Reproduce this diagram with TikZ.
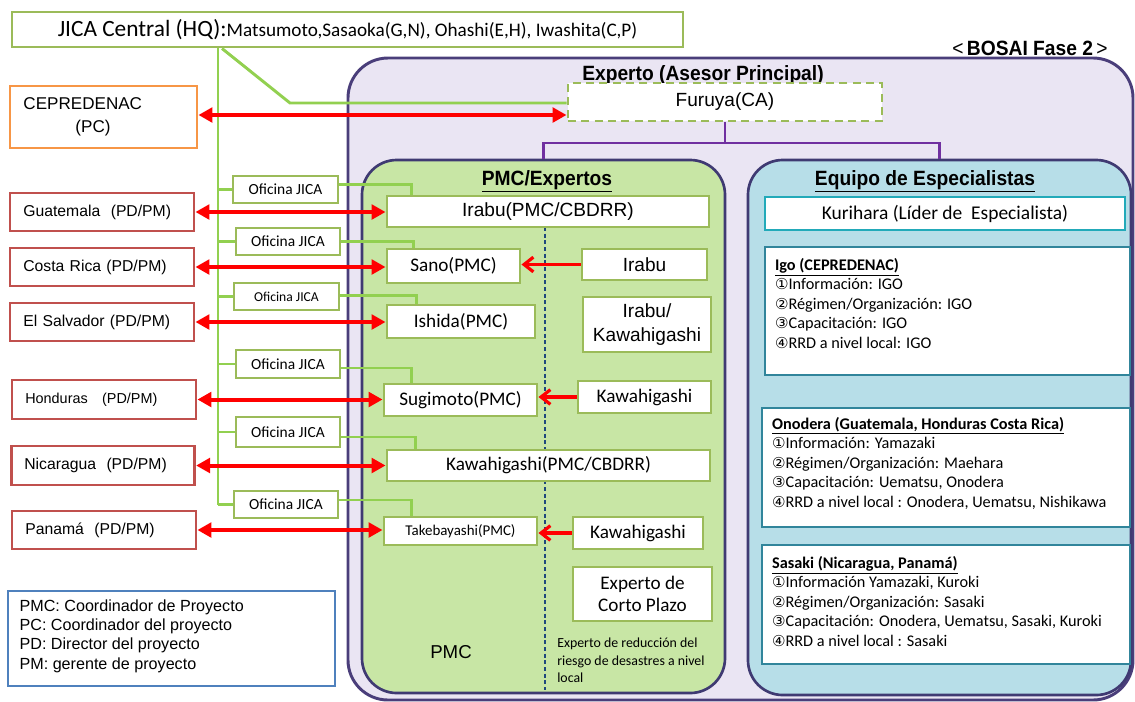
\documentclass[tikz,border=0pt]{standalone}
\usepackage{fontspec}
\setmainfont{Liberation Sans}
\newfontfamily\calib{Carlito}
\newfontfamily\ari{Liberation Sans}
\newfontfamily\narb[FakeStretch=0.93]{Liberation Sans}
\newfontfamily\djv{DejaVu Sans}
\usetikzlibrary{arrows.meta,calc}
\definecolor{gb}{RGB}{155,187,89}
\definecolor{gl}{RGB}{146,208,80}
\definecolor{rb}{RGB}{192,80,77}
\definecolor{ob}{RGB}{247,150,70}
\definecolor{pb}{RGB}{74,62,122}
\definecolor{pf}{RGB}{234,229,243}
\definecolor{pn}{RGB}{63,58,114}
\definecolor{gf}{RGB}{200,230,165}
\definecolor{bf}{RGB}{183,222,232}
\definecolor{tb}{RGB}{49,133,155}
\definecolor{lb}{RGB}{79,129,189}
\definecolor{dl}{RGB}{31,73,125}
\definecolor{ptree}{RGB}{112,48,160}
\newcommand\BX[7]{\node[inner sep=0pt, minimum width={(#4-#2)*0.75pt}, minimum height={(#5-#3)*0.75pt}, #6] (#1) at ({(#2+#4)/2},{(#3+#5)/2}) {#7};}
\newcommand\cn[1]{{\djv\fontsize{11.3}{10}\selectfont#1}}
\begin{document}
\begin{tikzpicture}[x=0.75pt,y=-0.75pt,
  gbox/.style={draw=gb, line width=2.2pt, fill=white},
  rbox/.style={draw=rb, line width=2.2pt, fill=white},
  tbox/.style={draw=tb, line width=1.8pt, fill=white},
  cty/.style={rbox, font=\ari\fontsize{11.8}{14}\selectfont, inner xsep=9.75pt, text width=118pt, align=left},
  ofi/.style={gbox, font=\calib\fontsize{11.6}{13}\selectfont},
  ariF/.style={font=\ari\fontsize{14.3}{18}\selectfont, align=center},
  calF/.style={font=\calib\fontsize{14.4}{17}\selectfont, align=center},
  titleF/.style={font=\narb\bfseries\fontsize{15.5}{17}\selectfont},
  spec/.style={font=\calib\fontsize{12.2}{14.6}\selectfont, align=left, anchor=north west, inner sep=0pt},
  gline/.style={draw=gl, line width=2.2pt},
  treeline/.style={draw=ptree, line width=2.2pt},
  rarr2/.style={draw=red, line width=3pt, {Triangle[length=10.5pt,width=11pt]}-{Triangle[length=10.5pt,width=11pt]}},
  rarr1/.style={draw=red, line width=2.4pt, -{Straight Barb[length=7pt,width=11pt]}}
]
\useasboundingbox (0,0) rectangle (1135,701);

% panels
\BX{outer}{348}{58}{1133}{700}{draw=pb, line width=2.2pt, fill=pf, rounded corners=30pt}{}
\BX{pmc}{362}{160}{725}{693}{draw=pn, line width=2pt, fill=gf, rounded corners=26pt}{}
\BX{esp}{748}{160}{1131}{695}{draw=pn, line width=2pt, fill=bf, rounded corners=26pt}{}

\node[titleF] (expT) at (703,75) {Experto (Asesor Principal)};
\node[titleF] (pmcT) at (547,181) {\underline{PMC/Expertos}};
\node[titleF] (espT) at (925,181) {\underline{Equipo de Especialistas}};
\node[titleF] (bosai) at (1030,48) {{\mdseries <\,}BOSAI Fase 2{\mdseries \,>}};

% dashed divider
\coordinate (dtop) at (545,227);
\draw[dl, line width=0.8pt, dash pattern=on 3pt off 2pt] (dtop) -- ++(0,463);

% top box
\BX{jica}{12}{12}{683}{47}{gbox, font=\calib}{{\fontsize{17.5}{19}\selectfont JICA Central (HQ):}{\fontsize{14.4}{16}\selectfont Matsumoto,Sasaoka(G,N), Ohashi(E,H), Iwashita(C,P)}}

\BX{furuya}{568}{83}{882}{121}{draw=gb, dash pattern=on 6pt off 4pt, line width=2.2pt, fill=white, ariF}{Furuya(CA)}

% left boxes
\BX{cep}{10}{86}{197}{148}{draw=ob, line width=2.2pt, fill=white, font=\ari\fontsize{12.8}{17}\selectfont, inner xsep=9.75pt, text width=120pt, align=left}{CEPREDENAC\\\hspace*{39pt}(PC)}
\BX{guat}{10}{193}{194}{231}{cty}{Guatemala\ \ (PD/PM)}
\BX{cr}{10}{248}{194}{286}{cty}{Costa Rica (PD/PM)}
\BX{es}{10}{303}{194}{341}{cty}{El Salvador (PD/PM)}
\BX{hon}{12}{380}{196}{419}{cty, font=\ari\fontsize{10.8}{14}\selectfont}{Honduras\ \ \ (PD/PM)}
\BX{nic}{12}{446}{194}{485}{cty}{Nicaragua\ \ (PD/PM)}
\BX{pan}{12}{511}{196}{549}{cty}{Panamá\ \ (PD/PM)}

% legend
\BX{leg}{8}{591}{335}{686}{draw=lb, line width=1pt, fill=white}{}
\node[anchor=north west, inner sep=0pt, align=left, font=\ari\fontsize{12.1}{14.5}\selectfont] (legT) at ([shift={(12,9)}]leg.north west) {PMC: Coordinador de Proyecto\\PC: Coordinador del proyecto\\PD: Director del proyecto\\PM: gerente de proyecto};

% oficina boxes
\BX{of1}{233}{176}{338}{203}{ofi}{Oficina JICA}
\BX{of2}{236}{228}{340}{255}{ofi}{Oficina JICA}
\BX{of3}{234}{283}{339}{310}{ofi, font=\calib\fontsize{10.2}{12}\selectfont}{Oficina JICA}
\BX{of4}{236}{350}{340}{378}{ofi}{Oficina JICA}
\BX{of5}{236}{417}{340}{447}{ofi}{Oficina JICA}
\BX{of6}{234}{491}{338}{518}{ofi}{Oficina JICA}

% PMC boxes
\BX{irabuP}{387}{196}{709}{227}{gbox, ariF}{Irabu(PMC/CBDRR)}
\BX{sano}{387}{249}{520}{283}{gbox, calF}{Sano(PMC)}
\BX{ishida}{387}{305}{535}{338}{gbox, calF}{Ishida(PMC)}
\BX{sugi}{384}{384}{537}{416}{gbox, calF}{Sugimoto(PMC)}
\BX{kawaP}{387}{450}{710}{481}{gbox, calF}{Kawahigashi(PMC/CBDRR)}
\BX{take}{384}{517}{537}{545}{gbox, font=\calib\fontsize{11.2}{13}\selectfont}{Takebayashi(PMC)}

% right column
\BX{irabuR}{582}{249}{707}{280}{gbox, ariF}{Irabu}
\BX{irkw}{583}{297}{711}{352}{gbox, ariF}{Irabu/\\Kawahigashi}
\BX{kawaR1}{578}{381}{711}{413}{gbox, calF}{Kawahigashi}
\BX{kawaR2}{573}{517}{703}{549}{gbox, calF}{Kawahigashi}
\BX{corto}{573}{567}{712}{621}{gbox, calF}{Experto de\\Corto Plazo}

\node[font=\ari\fontsize{14}{16}\selectfont] (pmcL) at (451,652) {PMC};
\node[anchor=north west, inner sep=0pt, align=left, font=\calib\fontsize{10.4}{13}\selectfont] (redL) at (557,638) {Experto de reducción del\\riesgo de desastres a nivel\\local};

% specialists
\BX{kuri}{765}{197}{1125}{230}{tbox, draw=tb!70!cyan, font=\calib\fontsize{14.6}{16}\selectfont}{Kurihara (Líder de\ \ Especialista)}
\BX{igo}{765}{247}{1130}{375}{tbox}{}
\BX{onod}{762}{408}{1130}{527}{tbox}{}
\BX{sasa}{762}{545}{1130}{664}{tbox}{}
\node[spec] (igoT) at ([shift={(11,12)}]igo.north west) {\textbf{\underline{Igo (CEPREDENAC)}}\\\cn{①}Información: IGO\\\cn{②}Régimen/Organización: IGO\\\cn{③}Capacitación: IGO\\\cn{④}RRD a nivel local: IGO};
\node[spec] (onodT) at ([shift={(11,10)}]onod.north west) {\textbf{\underline{Onodera (Guatemala, Honduras Costa Rica)}}\\\cn{①}Información: Yamazaki\\\cn{②}Régimen/Organización: Maehara\\\cn{③}Capacitación: Uematsu, Onodera\\\cn{④}RRD a nivel local : Onodera, Uematsu, Nishikawa};
\node[spec] (sasaT) at ([shift={(11,12)}]sasa.north west) {\textbf{\underline{Sasaki (Nicaragua, Panamá)}}\\\cn{①}Información Yamazaki, Kuroki\\\cn{②}Régimen/Organización: Sasaki\\\cn{③}Capacitación: Onodera, Uematsu, Sasaki, Kuroki\\\cn{④}RRD a nivel local : Sasaki};

% tree
\coordinate (tj) at (725,143);
\draw[treeline] (furuya.south) -- (tj);
\draw[treeline] (pmc.north) |- (tj) -| (esp.north);

% green lines
\coordinate (vx) at (218,0);
\coordinate (dk) at (290,103);
\draw[gline] (jica.south -| vx) -- (vx |- of6.west);
\foreach \o in {of1,of2,of3,of4,of5,of6} { \draw[gline] (vx |- \o.west) -- (\o.west); }
\draw[gline] ([xshift=3pt]jica.south -| vx) -- (dk) -- (dk -| furuya.west);
\draw[gline] ([yshift=4pt]of1.east) -| ([xshift=19.5pt]irabuP.north west);
\draw[gline] (of2.east) -| ([xshift=21pt]sano.north west);
\draw[gline] ([yshift=1pt]of3.east) -| ([xshift=23pt]ishida.north west);
\draw[gline] ([yshift=-3pt]of4.east) -| ([xshift=22pt]sugi.north west);
\draw[gline] ([yshift=-3.75pt]of5.east) -| ([xshift=22.5pt]kawaP.north west);
\draw[gline] ([yshift=3.4pt]of6.east) -| ([xshift=22pt]take.north west);

% red arrows
\draw[rarr2] ([yshift=1.5pt]cep.east) -- ([yshift=1.5pt]cep.east -| furuya.west);
\draw[rarr2] (guat.east) -- (guat.east -| irabuP.west);
\draw[rarr2] (cr.east) -- (cr.east -| sano.west);
\draw[rarr2] (es.east) -- (es.east -| ishida.west);
\draw[rarr2] (hon.east) -- (hon.east -| sugi.west);
\draw[rarr2] (nic.east) -- (nic.east -| kawaP.west);
\draw[rarr2] (pan.east) -- (pan.east -| take.west);
\draw[rarr1] (irabuR.west) -- (irabuR.west -| sano.east);
\draw[rarr1] (kawaR1.west) -- (kawaR1.west -| sugi.east);
\draw[rarr1] (kawaR2.west) -- (kawaR2.west -| take.east);
\end{tikzpicture}
\end{document}
